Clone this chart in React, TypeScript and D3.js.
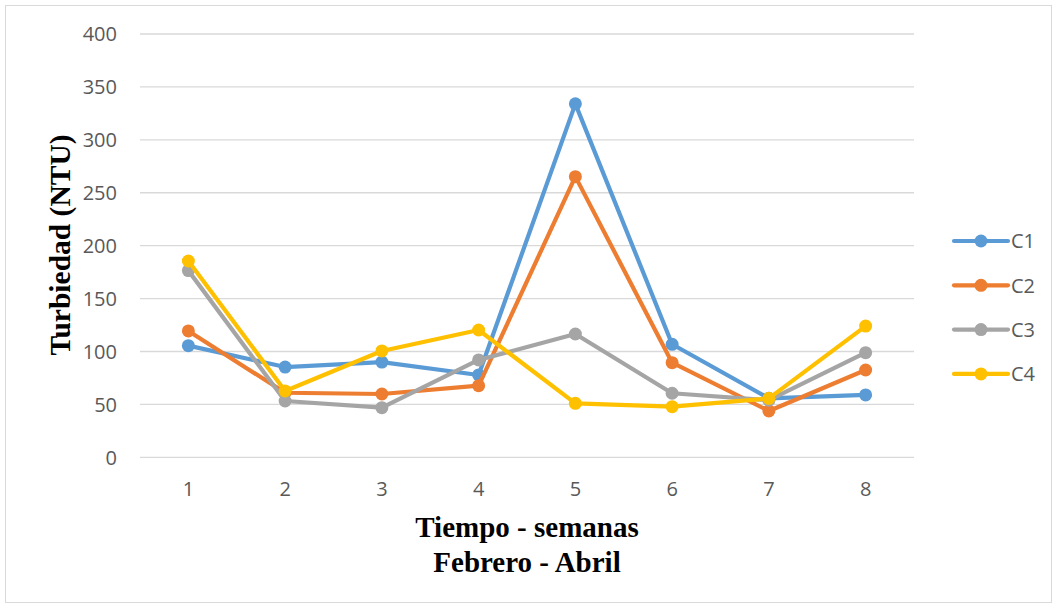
import React from "react";
import * as d3 from "d3";

// Weekly turbidity readings (NTU) at four sampling points
const weeks = [1, 2, 3, 4, 5, 6, 7, 8];
const c1 = [105.5, 85.3, 90, 77.8, 334, 106.8, 55.7, 58.9];
const c2 = [119.4, 61, 59.8, 67.7, 265.2, 89.4, 43.8, 82.5];
const c3 = [176.4, 53.2, 46.9, 92, 116.5, 60.5, 54, 98.9];
const c4 = [185.5, 62.7, 100.5, 120.3, 51, 47.8, 55.7, 124];
const seriesNames = ["C1", "C2", "C3", "C4"];
const seriesColors = ["#5B9BD5", "#ED7D31", "#A5A5A5", "#FFC000"];
const yTicks = [0, 50, 100, 150, 200, 250, 300, 350, 400];

const W = 1057;
const H = 608;

export default function App() {
  const series = [c1, c2, c3, c4];
  const plotLeft = 140;
  const plotRight = 914;
  const x = d3
    .scalePoint<number>()
    .domain(weeks)
    .range([plotLeft, plotRight])
    .padding(0.5);
  const y = d3.scaleLinear().domain([0, 400]).range([457.3, 34]);
  const line = d3
    .line<number>()
    .x((_, i) => x(weeks[i]) as number)
    .y((d) => y(d));

  const tickFont = "'Open Sans', 'Noto Sans', sans-serif";
  const titleFont = "'Liberation Serif', 'DejaVu Serif', serif";

  return (
    <svg
      width={W}
      height={H}
      style={{ position: "absolute", left: 0, top: 0, background: "#fff" }}
    >
      <rect x={5.5} y={5.5} width={1046} height={597} fill="#fff" stroke="#d9d9d9" strokeWidth={1} />

      {yTicks.map((t) => (
        <g key={t}>
          <line x1={plotLeft} x2={plotRight} y1={y(t)} y2={y(t)} stroke="#d9d9d9" strokeWidth={1.3} />
          <text
            x={117}
            y={y(t)}
            dy="0.36em"
            textAnchor="end"
            fontFamily={tickFont}
            fontSize={20}
            fill="#595959"
          >
            {t}
          </text>
        </g>
      ))}

      {weeks.map((w) => (
        <text
          key={w}
          x={x(w)}
          y={496}
          textAnchor="middle"
          fontFamily={tickFont}
          fontSize={20}
          fill="#595959"
        >
          {w}
        </text>
      ))}

      {series.map((s, i) => (
        <g key={seriesNames[i]}>
          <path
            d={line(s) as string}
            fill="none"
            stroke={seriesColors[i]}
            strokeWidth={4.2}
            strokeLinejoin="round"
            strokeLinecap="round"
          />
          {s.map((v, j) => (
            <circle key={j} cx={x(weeks[j])} cy={y(v)} r={6.5} fill={seriesColors[i]} />
          ))}
        </g>
      ))}

      {seriesNames.map((n, i) => {
        const ly = 241 + i * 44.3;
        return (
          <g key={n}>
            <line x1={954} x2={1008} y1={ly} y2={ly} stroke={seriesColors[i]} strokeWidth={4.2} strokeLinecap="round" />
            <circle cx={981} cy={ly} r={6.5} fill={seriesColors[i]} />
            <text
              x={1011}
              y={ly}
              dy="0.36em"
              fontFamily={tickFont}
              fontSize={20}
              fill="#595959"
            >
              {n}
            </text>
          </g>
        );
      })}

      <text
        transform={`translate(70,245) rotate(-90)`}
        textAnchor="middle"
        fontFamily={titleFont}
        fontWeight="bold"
        fontSize={29.5}
        fill="#000"
      >
        Turbiedad (NTU)
      </text>

      <text
        x={527}
        y={537}
        textAnchor="middle"
        fontFamily={titleFont}
        fontWeight="bold"
        fontSize={29}
        fill="#000"
      >
        Tiempo - semanas
      </text>
      <text
        x={527}
        y={571.5}
        textAnchor="middle"
        fontFamily={titleFont}
        fontWeight="bold"
        fontSize={29}
        fill="#000"
      >
        Febrero - Abril
      </text>
    </svg>
  );
}
